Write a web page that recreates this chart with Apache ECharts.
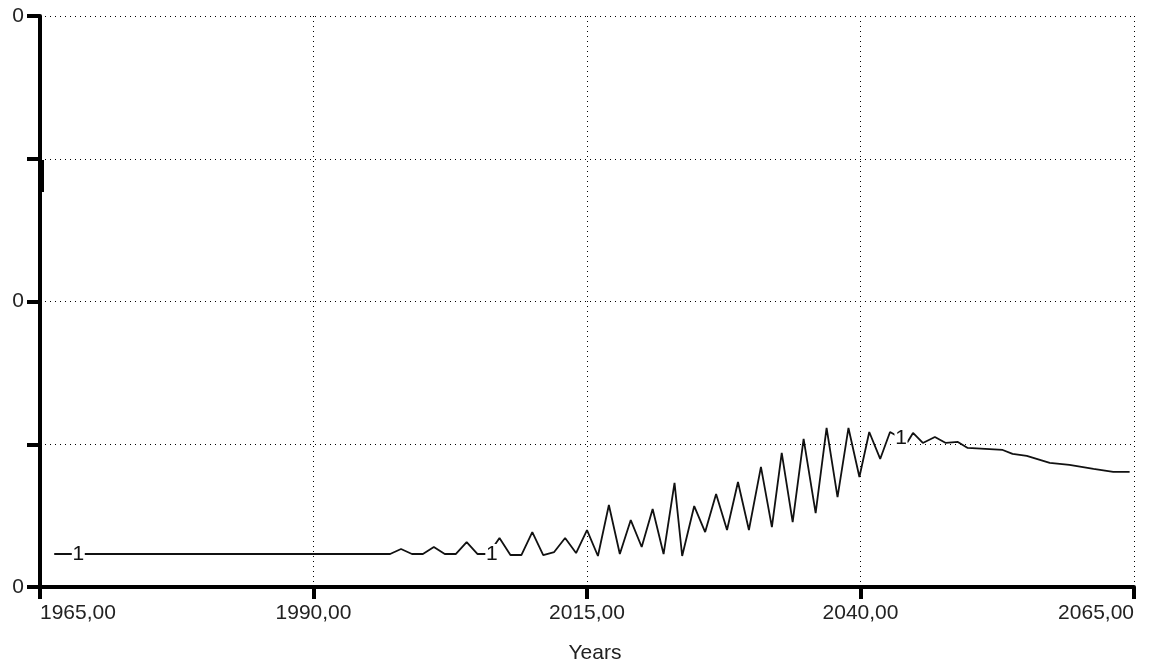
<!DOCTYPE html>
<html>
<head>
<meta charset="utf-8">
<script src="https://cdn.jsdelivr.net/npm/echarts@6/dist/echarts.min.js"></script>
<style>
html,body{margin:0;padding:0;background:#fff;}
#chart{width:1149px;height:664px;}
</style>
</head>
<body>
<div id="chart"></div>
<script>
// Data
var years = [1966.3, 1997, 1998, 1999, 2000, 2001, 2002, 2003, 2004, 2005, 2006, 2007, 2008, 2009, 2010, 2011, 2012, 2013, 2014, 2015, 2016, 2017, 2018, 2019, 2020, 2021, 2022, 2023, 2023.7, 2024.8, 2025.8, 2026.8, 2027.8, 2028.8, 2029.8, 2030.9, 2031.9, 2032.8, 2033.8, 2034.8, 2035.9, 2036.9, 2037.9, 2038.9, 2039.9, 2040.8, 2041.8, 2042.7, 2044.3, 2044.8, 2045.7, 2046.8, 2047.8, 2048.9, 2049.8, 2053.0, 2053.9, 2055.2, 2057.3, 2059.1, 2061.3, 2063.1, 2064.6];
var values = [0.0231, 0.0231, 0.0266, 0.0231, 0.0231, 0.0280, 0.0231, 0.0231, 0.0315, 0.0231, 0.0231, 0.0343, 0.0224, 0.0224, 0.0385, 0.0224, 0.0245, 0.0343, 0.0238, 0.0399, 0.0217, 0.0574, 0.0231, 0.0469, 0.0280, 0.0546, 0.0231, 0.0729, 0.0217, 0.0567, 0.0385, 0.0651, 0.0399, 0.0736, 0.0399, 0.0841, 0.0420, 0.0939, 0.0455, 0.1037, 0.0518, 0.1114, 0.0630, 0.1114, 0.0771, 0.1086, 0.0897, 0.1086, 0.1016, 0.1079, 0.1009, 0.1051, 0.1009, 0.1016, 0.0974, 0.0960, 0.0932, 0.0918, 0.0869, 0.0855, 0.0827, 0.0806, 0.0806];
var markerYears = [1968.5, 2006.3, 2043.7];
var markerValues = [0.0231, 0.0231, 0.1045];
var markerText = '1';
var xTickFmt = function (v) { return v + ',00'; };
var yTickLabels = ['0', '', '0', '', '0'];
var xName = 'Years';

var font = '"Liberation Sans", Arial, sans-serif';
var chart = echarts.init(document.getElementById('chart'), null, {renderer: 'canvas'});
var seriesData = years.map(function (y, i) { return [y, values[i]]; });
var markData = markerYears.map(function (y, i) { return {coord: [y, markerValues[i]], value: markerText}; });

chart.setOption({
  animation: false,
  backgroundColor: '#fff',
  grid: {left: 40, right: 15, top: 16, bottom: 77, containLabel: false, outerBoundsMode: 'none'},
  xAxis: {
    type: 'value', min: 1965, max: 2065, interval: 25,
    name: xName, nameLocation: 'middle', nameGap: 56,
    nameTextStyle: {fontFamily: font, fontSize: 21, color: '#222', padding: [0, 0, 0, 16]},
    axisLine: {show: true, lineStyle: {color: '#000', width: 4}},
    axisTick: {show: true, length: 12, lineStyle: {color: '#000', width: 4}},
    axisLabel: {formatter: xTickFmt, fontFamily: font, fontSize: 21, color: '#222', margin: 16,
      alignMinLabel: 'left', alignMaxLabel: 'right'},
    splitLine: {show: true, lineStyle: {color: '#000', width: 1, type: [1, 4]}}
  },
  yAxis: {
    type: 'value', min: 0, max: 0.4, interval: 0.1,
    axisLine: {show: true, lineStyle: {color: '#000', width: 4}},
    axisTick: {show: true, length: 13, lineStyle: {color: '#000', width: 4}},
    axisLabel: {formatter: function (v, i) { return yTickLabels[i] || ''; }, fontFamily: font, fontSize: 21, color: '#222', margin: 16},
    splitLine: {show: true, lineStyle: {color: '#000', width: 1, type: [1, 4]}}
  },
  graphic: [{type: 'rect', left: 41, top: 160, shape: {width: 3, height: 32}, style: {fill: '#000'}}],
  series: [{
    type: 'line', data: seriesData, symbol: 'none', silent: true,
    lineStyle: {color: '#111', width: 1.8},
    markPoint: {
      symbol: 'rect', symbolSize: [13, 20], silent: true,
      itemStyle: {color: '#fff'},
      label: {show: true, position: 'inside', formatter: '{c}', fontFamily: font, fontSize: 21, color: '#111'},
      data: markData
    }
  }]
});
</script>
</body>
</html>
